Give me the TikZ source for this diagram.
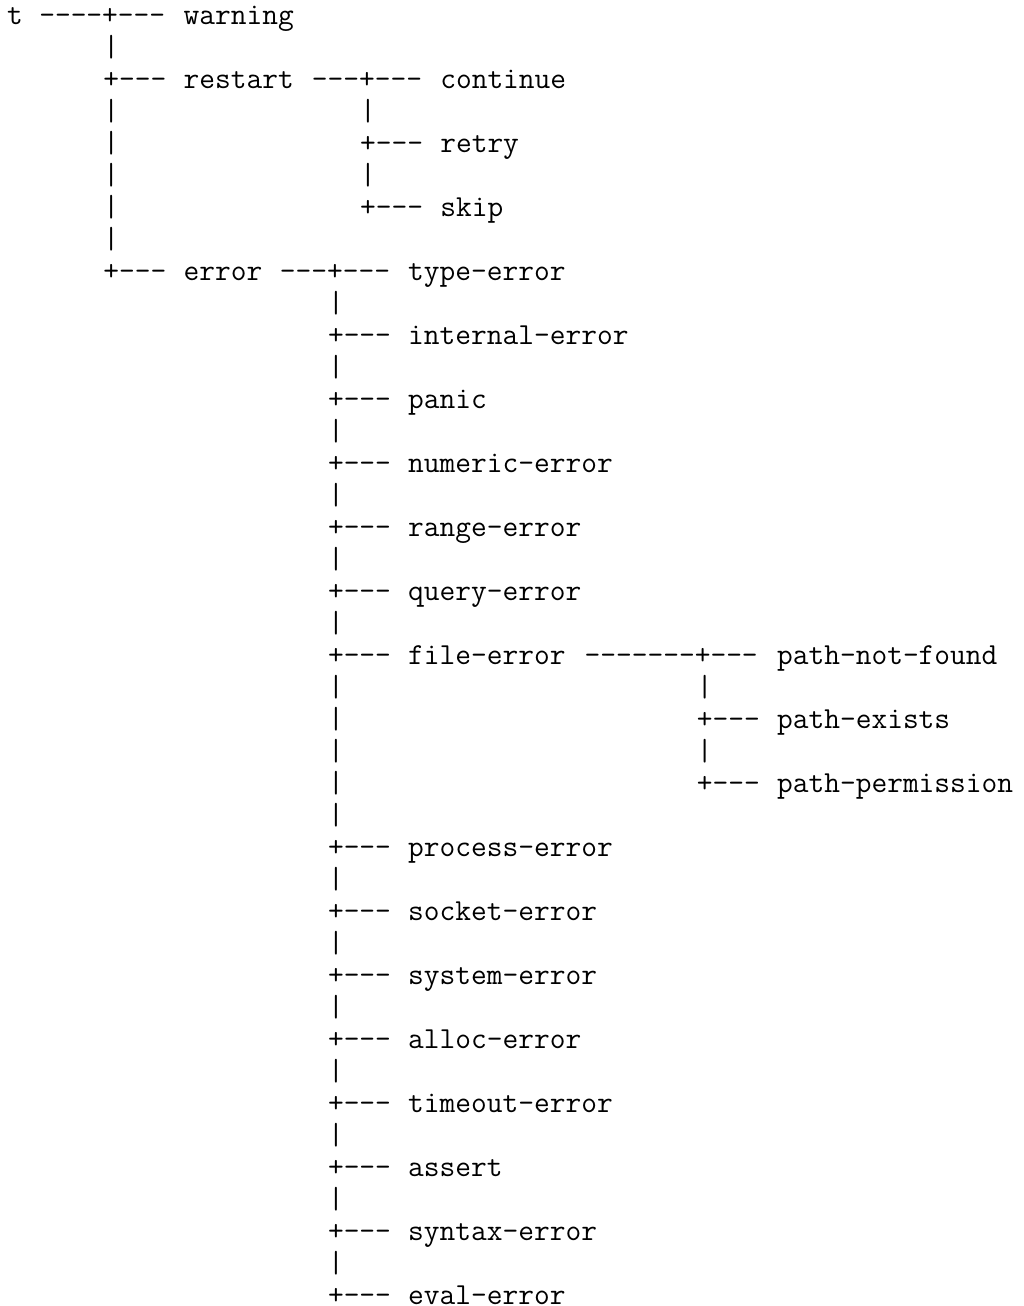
\documentclass[tikz,border=0pt]{standalone}
\usepackage{fontspec}
\setmonofont{Latin Modern Mono}
\begin{document}
\begin{tikzpicture}[x=16.04pt,y=-32pt,
	txt/.style={anchor=base west,inner sep=0pt,outer sep=0pt,
		font=\fontsize{30.55pt}{32pt}\selectfont\ttfamily}]
	\useasboundingbox (0pt,0pt) rectangle (1023pt,-1306pt);
	% Root
	\node[txt] (t) at (0.45,0.78) {t};
	\node[txt] (t-con) at (2.45,0.78) {----+---};
	\node[txt] (warning) at (11.45,0.78) {warning};
	\foreach \r in {1,3,4,5,6,7}
		\node[txt] (b6-\r) at (6.45,\r+0.78) {|};
	% Restart
	\node[txt] (p-restart) at (6.45,2.78) {+---};
	\node[txt] (restart) at (11.45,2.78) {restart};
	\node[txt] (restart-con) at (19.45,2.78) {---+---};
	\node[txt] (continue) at (27.45,2.78) {continue};
	\foreach \r in {3,5}
		\node[txt] (b22-\r) at (22.45,\r+0.78) {|};
	\node[txt] (p-retry) at (22.45,4.78) {+---};
	\node[txt] (retry) at (27.45,4.78) {retry};
	\node[txt] (p-skip) at (22.45,6.78) {+---};
	\node[txt] (skip) at (27.45,6.78) {skip};
	% Error
	\node[txt] (p-error) at (6.45,8.78) {+---};
	\node[txt] (error) at (11.45,8.78) {error};
	\node[txt] (error-con) at (17.45,8.78) {---+---};
	\node[txt] (type-error) at (25.45,8.78) {type-error};
	\foreach \r in {9,11,...,39,22,24}
		\node[txt] (b20-\r) at (20.45,\r+0.78) {|};
	\foreach \r/\lbl in {10/internal-error,12/panic,14/numeric-error,
			16/range-error,18/query-error,20/file-error,26/process-error,
			28/socket-error,30/system-error,32/alloc-error,34/timeout-error,
			36/assert,38/syntax-error,40/eval-error}{
		\node[txt] (p-\lbl) at (20.45,\r+0.78) {+---};
		\node[txt] (\lbl) at (25.45,\r+0.78) {\lbl};
	}
	% File error
	\node[txt] (file-con) at (36.45,20.78) {-------+---};
	\node[txt] (path-not-found) at (48.45,20.78) {path-not-found};
	\foreach \r in {21,23}
		\node[txt] (b43-\r) at (43.45,\r+0.78) {|};
	\node[txt] (p-path-exists) at (43.45,22.78) {+---};
	\node[txt] (path-exists) at (48.45,22.78) {path-exists};
	\node[txt] (p-path-permission) at (43.45,24.78) {+---};
	\node[txt] (path-permission) at (48.45,24.78) {path-permission};
\end{tikzpicture}
\end{document}
